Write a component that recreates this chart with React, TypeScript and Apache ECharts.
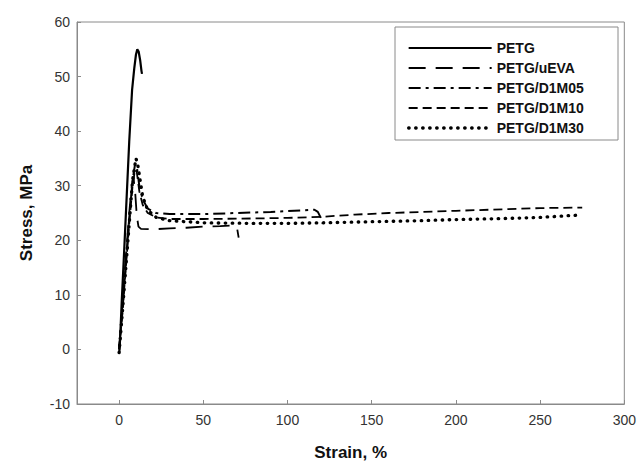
import React, { useEffect, useRef } from "react";
import * as echarts from "echarts";

const seriesNames = ["PETG", "PETG/uEVA", "PETG/D1M05", "PETG/D1M10", "PETG/D1M30"];
const xTicks = [0, 50, 100, 150, 200, 250, 300];

const petg: number[][] = [
  [0, -0.5], [0.3, 0], [1.6, 9], [3, 18], [4.5, 28], [6, 38], [7.7, 47.5], [9, 51.5],
  [10, 54], [10.8, 55], [11.6, 54.6], [12.5, 53], [13.3, 51], [13.6, 50.5],
];
const petgUeva: number[][] = [
  [0, 0], [2, 8], [4, 17], [6, 25], [7.5, 30], [8.5, 31.5], [9.5, 29], [10.5, 24.5],
  [11.5, 22.5], [13, 22.1], [20, 22], [30, 22.2], [40, 22.3], [50, 22.5], [60, 22.6],
  [68, 22.7], [70, 22.3], [71, 20.5],
];
const petgD1m05: number[][] = [
  [0, 0], [2, 7], [4, 16], [6, 24], [8, 31], [9.5, 34], [10.5, 33.5], [12, 30], [14, 27.5],
  [17, 25.8], [22, 25], [30, 24.8], [50, 24.8], [70, 25], [90, 25.2], [110, 25.5],
  [116, 25.6], [118, 25.2], [120, 24], [121, 23],
];
const petgD1m10: number[][] = [
  [0, 0], [2, 7], [4, 15], [6, 23], [8, 30], [9.5, 33], [10.5, 32.5], [12, 29], [14, 26.5],
  [17, 25], [22, 24.2], [30, 23.9], [50, 23.9], [80, 24], [100, 24.1], [120, 24.3],
  [140, 24.7], [160, 25], [180, 25.2], [200, 25.4], [230, 25.7], [250, 25.9], [275, 26],
];
const petgD1m30: number[][] = [
  [0, -0.6], [2, 7], [4, 15], [6, 23], [8, 31], [10, 35], [11, 34], [12.5, 31], [14, 28],
  [17, 25.5], [22, 24.2], [30, 23.6], [50, 23.2], [80, 23.1], [100, 23.1], [120, 23.2],
  [150, 23.4], [180, 23.6], [200, 23.8], [230, 24], [250, 24.2], [272, 24.6],
];

const seriesData = [petg, petgUeva, petgD1m05, petgD1m10, petgD1m30];
const dashes: any[] = ["solid", [17, 10], [12, 5, 3, 5], [9, 5], [0.5, 6.5]];
const widths = [2.2, 1.8, 2, 1.8, 3.3];

const FONT = "'Liberation Sans', Arial, sans-serif";

export default function App() {
  const ref = useRef<HTMLDivElement>(null);
  useEffect(() => {
    if (!ref.current) return;
    const chart = echarts.init(ref.current, null, { renderer: "svg" });
    chart.setOption({
      animation: false,
      backgroundColor: "#fff",
      grid: {
        left: 77, right: 14, top: 22, bottom: 61,
        show: true, borderColor: "#8a8a8a", borderWidth: 1,
      },
      legend: {
        orient: "vertical",
        left: 407, top: 41,
        itemWidth: 83, itemHeight: 14, itemGap: 6, itemTextGap: 22,
        padding: 0,
        data: seriesNames,
        itemStyle: { opacity: 0, borderWidth: 0 },
        lineStyle: { width: "inherit", opacity: 1 },
        textStyle: { fontFamily: FONT, fontWeight: "bold", fontSize: 14, color: "#111" },
      },
      graphic: [
        {
          type: "rect",
          shape: { x: 395, y: 27, width: 223, height: 113 },
          style: { fill: "none", stroke: "#8a8a8a", lineWidth: 1 },
          z: 10,
        },
      ],
      xAxis: {
        type: "value",
        min: -25, max: 300,
        name: "Strain, %",
        nameLocation: "middle",
        nameGap: 40,
        nameTextStyle: { fontFamily: FONT, fontWeight: "bold", fontSize: 17, color: "#111" },
        axisLine: { onZero: false, lineStyle: { color: "#8a8a8a", width: 1 } },
        axisTick: { inside: true, length: 4, customValues: xTicks, lineStyle: { color: "#8a8a8a" } },
        axisLabel: { customValues: xTicks, margin: 9, fontFamily: FONT, fontSize: 14, color: "#333" },
        splitLine: { show: false },
      },
      yAxis: {
        type: "value",
        min: -10, max: 60, interval: 10,
        name: "Stress, MPa",
        nameLocation: "middle",
        nameGap: 42,
        nameRotate: 90,
        nameTextStyle: { fontFamily: FONT, fontWeight: "bold", fontSize: 17, color: "#111" },
        axisLine: { show: true, onZero: false, lineStyle: { color: "#8a8a8a", width: 1 } },
        axisTick: { show: true, inside: true, length: 4, lineStyle: { color: "#8a8a8a" } },
        axisLabel: { margin: 7, fontFamily: FONT, fontSize: 14, color: "#333" },
        splitLine: { show: false },
      },
      series: seriesNames.map((name, i) => ({
        name,
        type: "line",
        data: seriesData[i],
        symbol: "none",
        showSymbol: false,
        smooth: false,
        color: "#000",
        lineStyle: { color: "#000", width: widths[i], type: dashes[i], cap: i === 4 ? "round" : "butt" },
      })),
    });
    return () => chart.dispose();
  }, []);
  return <div ref={ref} style={{ width: 639, height: 466, position: "absolute", left: 0, top: 0 }} />;
}
